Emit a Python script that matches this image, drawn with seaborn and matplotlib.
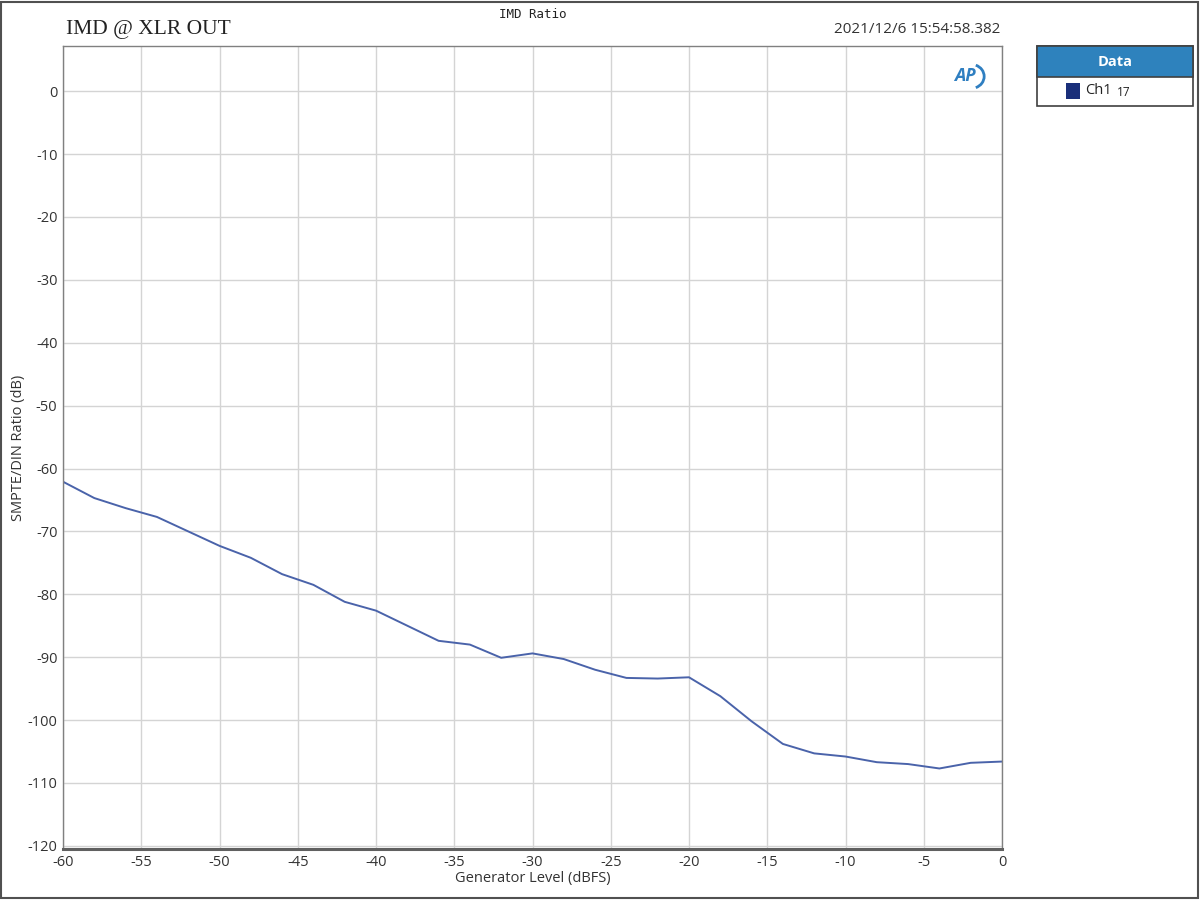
import numpy as np
import pandas as pd
import matplotlib
matplotlib.use("Agg")
import matplotlib.pyplot as plt
from matplotlib.patches import Rectangle, Arc
import seaborn as sns

gen_level = [-60, -58, -56, -54, -52, -50, -48, -46, -44, -42, -40,
             -38, -36, -34, -32, -30, -28, -26, -24, -22, -20,
             -18, -16, -14, -12, -10, -8, -6, -4, -2, 0]
imd_ratio = [-62.1, -64.7, -66.3, -67.7, -70.0, -72.3, -74.2, -76.8, -78.5, -81.2, -82.6,
             -85.0, -87.4, -88.0, -90.1, -89.4, -90.3, -92.0, -93.3, -93.4, -93.2,
             -96.2, -100.2, -103.8, -105.3, -105.8, -106.7, -107.0, -107.7, -106.8, -106.6]

x_ticks = list(range(-60, 1, 5))
y_ticks = list(range(0, -121, -10))

df = pd.DataFrame({"level": gen_level, "ratio": imd_ratio})

sns.set_style("whitegrid")
plt.rcParams["font.family"] = ["Open Sans", "DejaVu Sans"]
plt.rcParams["axes.unicode_minus"] = False

fig = plt.figure(figsize=(12, 9), dpi=100)
ax = fig.add_axes([0.0525, 0.0567, 0.7825, 0.8923])

sns.lineplot(data=df, x="level", y="ratio", ax=ax, color="#4a63aa", linewidth=1.4)

ax.set_xlim(-60, 0)
ax.set_ylim(-120.5, 7.2)
ax.set_xticks(x_ticks)
ax.set_yticks(y_ticks)
ax.grid(True, color="#d4d4d4", linewidth=1.0)
ax.tick_params(axis="both", labelsize=10.5, colors="#333333", length=0, pad=4)
ax.set_xlabel("Generator Level (dBFS)", fontsize=10.5, color="#333333", labelpad=1)
ax.set_ylabel("SMPTE/DIN Ratio (dB)", fontsize=10.5, color="#333333", labelpad=1)
for side in ["left", "right", "top"]:
    ax.spines[side].set_color("#808080")
    ax.spines[side].set_linewidth(1.0)
ax.spines["bottom"].set_color("#606060")
ax.spines["bottom"].set_linewidth(2.2)

# titles
fig.text(0.444, 0.991, "IMD Ratio", fontsize=9, family="DejaVu Sans Mono",
         ha="center", va="top", color="#222222")
fig.text(0.055, 0.967, "IMD @ XLR OUT", fontsize=15.5, family="Liberation Serif",
         ha="left", va="center", color="#222222")
fig.text(0.834, 0.967, "2021/12/6 15:54:58.382", fontsize=11,
         ha="right", va="center", color="#333333")

# AP logo
ax.text(0.972, 0.962, "AP", transform=ax.transAxes, fontsize=13, fontweight="bold",
        style="italic", color="#2f7fc1", ha="right", va="center")
ax.add_patch(Arc((0.967, 0.962), 0.028, 0.03, theta1=-70, theta2=70,
                 transform=ax.transAxes, color="#2f7fc1", linewidth=2))

# legend box
lx0, lx1 = 1037 / 1200, 1193 / 1200
ly_top, ly_mid, ly_bot = 1 - 46 / 900, 1 - 77 / 900, 1 - 106 / 900
fig.patches.append(Rectangle((lx0, ly_bot), lx1 - lx0, ly_top - ly_bot,
                             transform=fig.transFigure, facecolor="white",
                             edgecolor="#404040", linewidth=1.2))
fig.patches.append(Rectangle((lx0, ly_mid), lx1 - lx0, ly_top - ly_mid,
                             transform=fig.transFigure, facecolor="#2e82bd",
                             edgecolor="#404040", linewidth=1.2))
fig.text((lx0 + lx1) / 2, (ly_top + ly_mid) / 2, "Data", fontsize=10.5, fontweight="bold",
         color="white", ha="center", va="center")
fig.patches.append(Rectangle((1066 / 1200, 1 - 99 / 900), 14 / 1200, 16 / 900,
                             transform=fig.transFigure, facecolor="#1a2f7a",
                             edgecolor="none"))
fig.text(1085 / 1200, 1 - 91 / 900, "Ch1", fontsize=10.5, color="#222222",
         ha="left", va="center")
fig.text(1117 / 1200, 1 - 93 / 900, "17", fontsize=8.5, color="#222222",
         ha="left", va="center")

# outer frame
fig.patches.append(Rectangle((0.001, 0.002), 0.997, 0.996, transform=fig.transFigure,
                             facecolor="none", edgecolor="#505050", linewidth=1.5))

fig.savefig("out.png", dpi=100)
